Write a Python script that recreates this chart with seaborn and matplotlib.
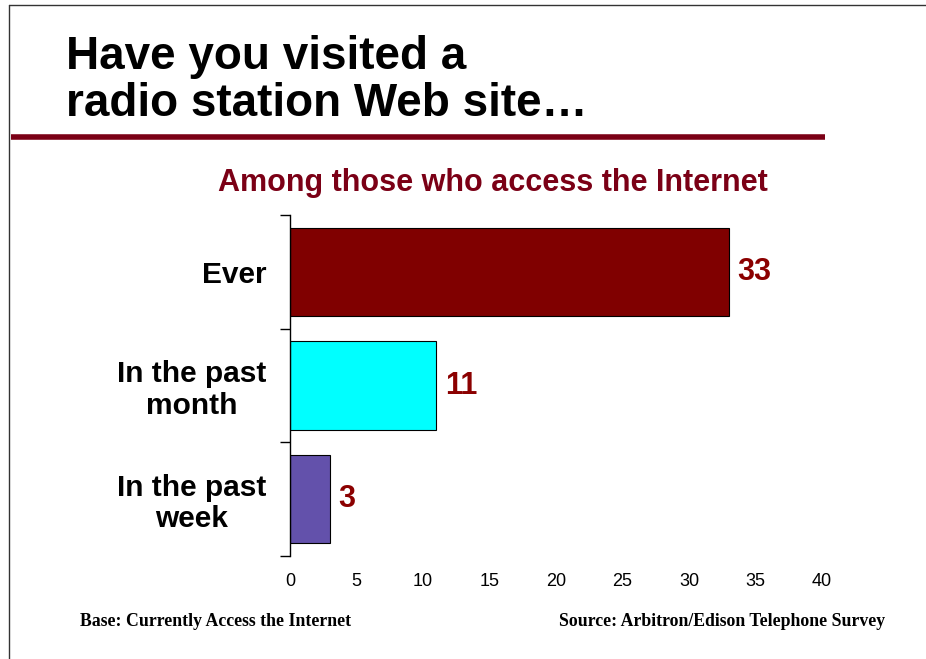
import matplotlib
matplotlib.use("Agg")
import matplotlib.pyplot as plt
import seaborn as sns
import pandas as pd
from matplotlib.lines import Line2D

categories = ["Ever", "In the past\nmonth", "In the past\nweek"]
values = [33, 11, 3]
bar_colors = ["#800000", "#00FFFF", "#6351AB"]
xticks = [0, 5, 10, 15, 20, 25, 30, 35, 40]

sns.set_theme(style="white")
plt.rcParams["font.family"] = ["Liberation Sans", "DejaVu Sans"]

df = pd.DataFrame({"cat": categories, "val": values})

fig = plt.figure(figsize=(9.26, 6.59), dpi=100)
W, H = 926, 659
ax = fig.add_axes([290 / W, 1 - 556 / H, (822 - 290) / W, (556 - 215) / H])

sns.barplot(data=df, x="val", y="cat", hue="cat", palette=bar_colors,
            orient="h", width=0.775, edgecolor="black", linewidth=0.8,
            saturation=1, legend=False, ax=ax, dodge=False)

ax.set_xlim(0, 40)
ax.set_ylim(2.5, -0.5)
ax.set_xticks(xticks)
ax.set_xticklabels([str(t) for t in xticks], fontsize=13)
ax.tick_params(axis="x", length=0, pad=12, colors="black")
ax.set_yticks(range(len(categories)))
ax.set_yticklabels(categories, fontsize=21.5, fontweight="bold",
                   multialignment="center", linespacing=1.15)
ax.tick_params(axis="y", which="major", length=0, pad=17, colors="black")
ax.set_yticks([-0.5, 0.5, 1.5, 2.5], minor=True)
ax.tick_params(axis="y", which="minor", length=7, width=1, color="black", left=True)
ax.set_xlabel("")
ax.set_ylabel("")
for s in ["top", "right", "bottom"]:
    ax.spines[s].set_visible(False)
ax.spines["left"].set_color("black")
ax.spines["left"].set_linewidth(1)
ax.grid(False)

for cont in ax.containers:
    ax.bar_label(cont, labels=[f"{v:g}" for v in cont.datavalues], padding=6,
                 fontsize=22, fontweight="bold", color="#8B0000")

# Slide title
fig.text(66 / W, 1 - 57 / H, "Have you visited a", fontsize=33, fontweight="bold",
         color="black", ha="left", va="center")
fig.text(66 / W, 1 - 104 / H, "radio station Web site\u2026", fontsize=33, fontweight="bold",
         color="black", ha="left", va="center")
fig.add_artist(Line2D([11 / W, 825 / W], [1 - 137 / H, 1 - 137 / H],
                      color="#7B0016", linewidth=4, solid_capstyle="butt"))

# Subtitle
fig.text(493 / W, 1 - 183 / H, "Among those who access the Internet", fontsize=22,
         fontweight="bold", color="#7B0016", ha="center", va="center")

# Footers
fig.text(80 / W, 1 - 621 / H, "Base: Currently Access the Internet", fontsize=12.8,
         fontweight="bold", family=["Liberation Serif", "DejaVu Serif"],
         ha="left", va="center", color="black")
fig.text(885 / W, 1 - 621 / H, "Source: Arbitron/Edison Telephone Survey", fontsize=12.8,
         fontweight="bold", family=["Liberation Serif", "DejaVu Serif"],
         ha="right", va="center", color="black")

# Slide border (top and left)
fig.add_artist(Line2D([9 / W, 9 / W], [0, 1 - 5 / H], color="#333333", linewidth=1))
fig.add_artist(Line2D([9 / W, 1], [1 - 5 / H, 1 - 5 / H], color="#333333", linewidth=1))

fig.savefig("out.png", dpi=100, facecolor="white")
